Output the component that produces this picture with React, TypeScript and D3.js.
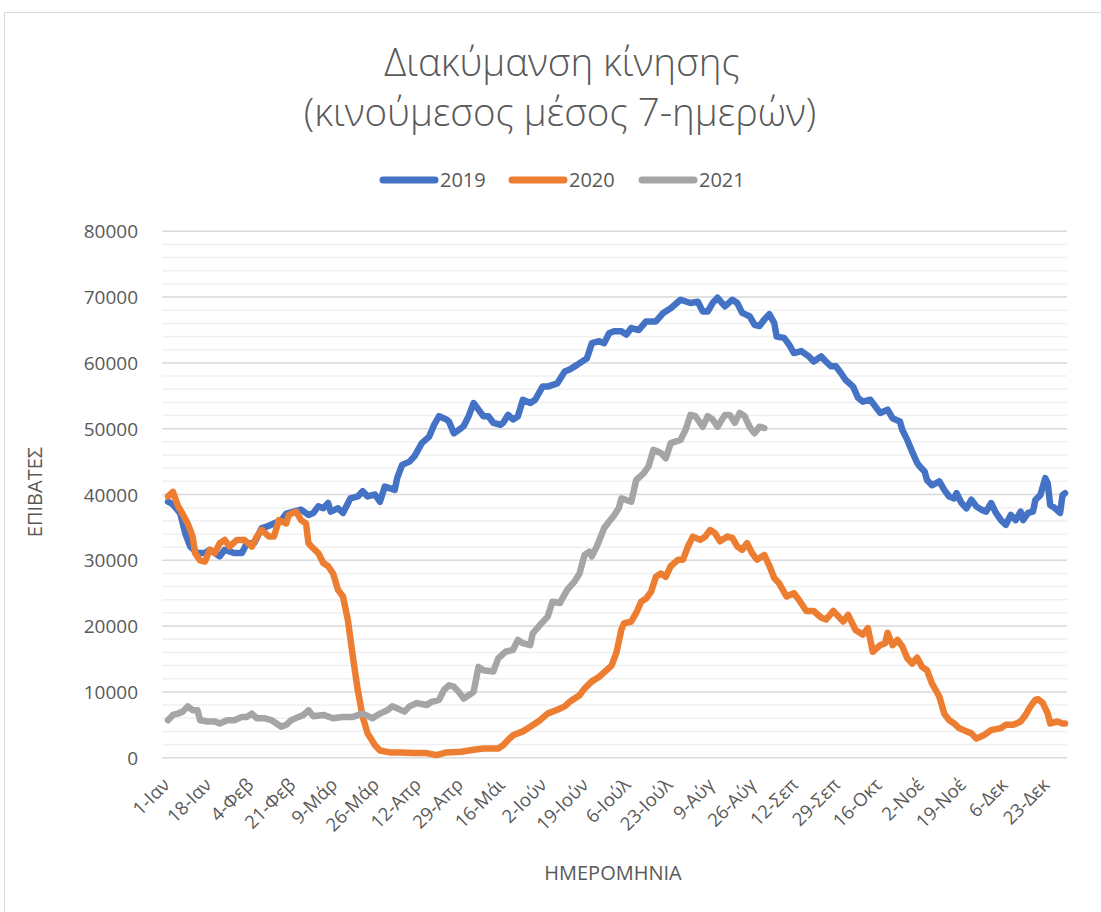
import React from 'react';
import * as d3 from 'd3';

const title1 = 'Διακύμανση κίνησης';
const title2 = '(κινούμεσος μέσος 7-ημερών)';
const seriesNames = ['2019', '2020', '2021'];
const seriesColors = ['#4472C4', '#ED7D31', '#A5A5A5'];
const xAxisTitle = 'ΗΜΕΡΟΜΗΝΙΑ';
const yAxisTitle = 'ΕΠΙΒΑΤΕΣ';

const dayCount = 365;
const tickStep = 17;
const tickLabels = [
  '1-Ιαν', '18-Ιαν', '4-Φεβ', '21-Φεβ', '9-Μάρ', '26-Μάρ', '12-Απρ', '29-Απρ',
  '16-Μάι', '2-Ιούν', '19-Ιούν', '6-Ιούλ', '23-Ιούλ', '9-Αύγ', '26-Αύγ', '12-Σεπ',
  '29-Σεπ', '16-Οκτ', '2-Νοέ', '19-Νοέ', '6-Δεκ', '23-Δεκ',
];
const yTicks = [0, 10000, 20000, 30000, 40000, 50000, 60000, 70000, 80000];
const yMinorStep = 2000;

// [day index, passengers]
const data2019: [number, number][] = [
  [0, 38900], [2, 38500], [5, 37100], [7, 34100], [9, 32100], [12, 31100], [15, 31100], [17, 31600],
  [21, 30600], [23, 31600], [27, 31100], [30, 31100], [32, 32600], [35, 32600], [38, 34900], [40, 35100],
  [43, 35600], [46, 36100], [48, 37100], [51, 37400], [54, 37700], [57, 36900], [59, 37200], [61, 38200],
  [63, 37900], [65, 38700], [66, 37400], [69, 37900], [71, 37200], [74, 39400], [77, 39700], [79, 40500],
  [81, 39700], [84, 40000], [86, 38900], [88, 41200], [92, 40700], [93, 42500], [95, 44500], [98, 45000],
  [100, 45800], [103, 47800], [106, 48800], [108, 50600], [110, 51900], [113, 51400], [114, 51100], [116, 49300],
  [119, 50100], [120, 50400], [122, 51900], [124, 53900], [126, 52900], [128, 51900], [130, 51900], [132, 50900],
  [135, 50600], [136, 50900], [138, 52100], [140, 51400], [142, 51900], [144, 54400], [147, 53900], [149, 54400],
  [152, 56400], [154, 56400], [158, 56900], [161, 58700], [163, 59000], [166, 59700], [168, 60200], [170, 60700],
  [172, 63000], [175, 63300], [177, 63000], [179, 64500], [181, 64800], [184, 64800], [186, 64300], [188, 65300],
  [191, 65000], [194, 66300], [198, 66300], [201, 67600], [204, 68300], [208, 69600], [212, 69100], [215, 69300],
  [217, 67800], [219, 67800], [221, 69100], [223, 69900], [226, 68600], [229, 69600], [231, 69100], [233, 67600],
  [236, 67100], [238, 65800], [240, 65600], [242, 66600], [244, 67400], [246, 66100], [247, 64000], [250, 63800],
  [252, 62800], [254, 61500], [257, 61800], [260, 61000], [262, 60200], [265, 61000], [267, 60200], [269, 59500],
  [271, 59500], [273, 58500], [275, 57400], [278, 56400], [280, 54700], [282, 54100], [285, 54400], [287, 53400],
  [289, 52400], [292, 52900], [294, 51600], [297, 51100], [298, 49800], [300, 48300], [302, 46500], [304, 44800],
  [305, 44300], [307, 43500], [308, 42200], [310, 41400], [313, 42000], [315, 40700], [317, 39700], [319, 39400],
  [320, 40200], [322, 38700], [324, 37900], [326, 39200], [328, 38200], [330, 37700], [332, 37400], [334, 38700],
  [336, 37200], [338, 36100], [340, 35400], [342, 36900], [344, 36100], [346, 37400], [347, 36100], [349, 37200],
  [351, 37400], [352, 39200], [354, 39900], [356, 42500], [357, 41700], [358, 38400], [360, 37900], [362, 37200],
  [363, 39900], [364, 40200],
];

const data2020: [number, number][] = [
  [0, 39700], [2, 40400], [4, 38300], [6, 37000], [8, 35600], [10, 33600], [11, 31100], [13, 30000],
  [15, 29800], [17, 31600], [19, 31100], [21, 32600], [23, 33100], [25, 32100], [28, 33100], [31, 33100],
  [34, 32100], [36, 33600], [38, 34600], [41, 33600], [43, 33600], [45, 36100], [48, 35600], [49, 36900],
  [52, 37400], [54, 36100], [56, 35600], [57, 32600], [59, 31800], [61, 31100], [63, 29600], [65, 29100],
  [67, 28000], [69, 25500], [71, 24500], [73, 20900], [75, 15400], [77, 10300], [79, 6200], [81, 3700],
  [84, 1900], [86, 1100], [90, 800], [94, 800], [100, 700], [105, 700], [109, 400], [113, 800],
  [119, 900], [124, 1200], [128, 1400], [134, 1400], [136, 1900], [138, 2700], [140, 3400], [144, 4000],
  [147, 4700], [151, 5700], [154, 6700], [158, 7300], [161, 7800], [163, 8500], [167, 9500], [169, 10500],
  [172, 11600], [175, 12300], [178, 13300], [180, 14000], [182, 16000], [184, 19500], [185, 20400], [188, 20700],
  [190, 22000], [192, 23700], [194, 24200], [196, 25200], [198, 27500], [200, 28000], [202, 27500], [204, 29100],
  [207, 30100], [209, 30100], [211, 32100], [213, 33600], [216, 33100], [218, 33600], [220, 34600], [222, 34100],
  [224, 32900], [227, 33600], [229, 33400], [231, 32100], [233, 31600], [235, 32600], [237, 31100], [239, 30100],
  [242, 30800], [244, 29200], [246, 27300], [248, 26500], [251, 24500], [254, 25000], [256, 24000], [259, 22300],
  [262, 22300], [265, 21300], [267, 21000], [270, 22300], [272, 21500], [274, 20700], [276, 21700], [279, 19400],
  [282, 18700], [284, 19700], [286, 16100], [289, 17100], [291, 17400], [292, 19000], [294, 17100], [296, 17900],
  [298, 16900], [300, 15100], [302, 14300], [304, 15200], [306, 13800], [308, 13300], [310, 11300], [313, 9300],
  [315, 6700], [317, 5700], [319, 5200], [321, 4500], [324, 4000], [326, 3700], [328, 2900], [331, 3400],
  [334, 4200], [338, 4500], [340, 5000], [343, 5000], [346, 5500], [348, 6500], [350, 7800], [352, 8800],
  [353, 8900], [355, 8300], [357, 6700], [358, 5200], [361, 5500], [363, 5200], [364, 5200],
];

const data2021: [number, number][] = [
  [0, 5700], [2, 6500], [4, 6700], [6, 7000], [8, 7800], [10, 7200], [12, 7200], [13, 5700],
  [16, 5500], [19, 5500], [21, 5200], [24, 5700], [27, 5700], [30, 6200], [32, 6200], [34, 6700],
  [36, 6000], [39, 6000], [42, 5700], [44, 5200], [46, 4700], [48, 5000], [50, 5700], [53, 6200],
  [55, 6500], [57, 7200], [59, 6300], [63, 6500], [67, 6000], [71, 6200], [75, 6200], [79, 6700],
  [83, 6000], [86, 6700], [89, 7200], [91, 7800], [93, 7500], [96, 7000], [98, 7800], [101, 8300],
  [105, 8000], [107, 8500], [110, 8800], [112, 10300], [114, 11000], [116, 10800], [118, 10000], [120, 9000],
  [122, 9500], [124, 10000], [126, 13800], [128, 13300], [132, 13100], [134, 15100], [137, 16100], [140, 16400],
  [142, 17900], [144, 17400], [147, 17100], [148, 18900], [151, 20200], [154, 21400], [156, 23700], [159, 23500],
  [162, 25500], [165, 26800], [167, 28000], [169, 30800], [171, 31300], [172, 30600], [174, 32100], [177, 34900],
  [179, 35900], [181, 36800], [183, 38000], [184, 39400], [188, 38900], [190, 42200], [193, 43200], [195, 44300],
  [197, 46800], [200, 46300], [202, 45500], [204, 47800], [208, 48300], [210, 49800], [212, 52100], [214, 51900],
  [217, 50300], [219, 51900], [221, 51400], [223, 50300], [226, 52100], [228, 52100], [230, 50900], [232, 52400],
  [234, 51900], [236, 50300], [238, 49300], [240, 50300], [242, 50100],
];

const allSeries = [data2019, data2020, data2021];

const W = 1101;
const H = 912;
const plotLeft = 162;
const plotRight = 1067;
const yTop = 231.3;
const yBottom = 757.7;
const textColor = '#595959';
const font = '"Open Sans", "DejaVu Sans", sans-serif';

export default function App() {
  const x = d3.scaleLinear().domain([0, dayCount - 1]).range([168, 1065]);
  const y = d3.scaleLinear().domain([0, 80000]).range([yBottom, yTop]);
  const line = d3
    .line<[number, number]>()
    .x((d) => x(d[0]))
    .y((d) => y(d[1]))
    .curve(d3.curveLinear);

  const minorTicks = d3.range(0, 80000 + 1, yMinorStep).filter((v) => v % 10000 !== 0);

  const legendX = [383, 512, 642];

  return (
    <svg
      width={W}
      height={H}
      style={{ position: 'absolute', left: 0, top: 0, display: 'block', background: '#fff' }}
      fontFamily={font}
    >
      <rect x={0} y={0} width={W} height={H} fill="#fff" />
      <rect x={4.5} y={12.5} width={W + 20} height={H + 20} fill="#fff" stroke="#d9d9d9" strokeWidth={1} />

      {/* title */}
      <text x={562} y={76} textAnchor="middle" fontSize={38.5} fontWeight={300} fill={textColor}>
        {title1}
      </text>
      <text x={560} y={126} textAnchor="middle" fontSize={38.5} fontWeight={300} fill={textColor}>
        {title2}
      </text>

      {/* legend */}
      {seriesNames.map((name, i) => (
        <g key={name}>
          <line
            x1={legendX[i]}
            x2={legendX[i] + 52}
            y1={180}
            y2={180}
            stroke={seriesColors[i]}
            strokeWidth={7}
            strokeLinecap="round"
          />
          <text x={legendX[i] + 57} y={187} fontSize={20} fill={textColor}>
            {name}
          </text>
        </g>
      ))}

      {/* gridlines */}
      {minorTicks.map((v) => (
        <line key={'m' + v} x1={plotLeft} x2={plotRight} y1={y(v)} y2={y(v)} stroke="#f0f0f0" strokeWidth={1.5} />
      ))}
      {yTicks.map((v) => (
        <line key={'M' + v} x1={plotLeft} x2={plotRight} y1={y(v)} y2={y(v)} stroke="#d9d9d9" strokeWidth={1.5} />
      ))}

      {/* y tick labels */}
      {yTicks.map((v) => (
        <text key={'yl' + v} x={138} y={y(v) + 7} textAnchor="end" fontSize={19} fill={textColor}>
          {v}
        </text>
      ))}

      {/* x tick labels */}
      {tickLabels.map((lab, k) => {
        const px = x(k * tickStep) + 3;
        const py = 786;
        return (
          <text
            key={lab}
            x={px}
            y={py}
            textAnchor="end"
            fontSize={18.5}
            fill={textColor}
            transform={`rotate(-45 ${px} ${py})`}
          >
            {lab}
          </text>
        );
      })}

      {/* axis titles */}
      <text x={613} y={880} textAnchor="middle" fontSize={20} fill={textColor}>
        {xAxisTitle}
      </text>
      <text
        x={0}
        y={0}
        textAnchor="middle"
        fontSize={20}
        fill={textColor}
        transform={`translate(42 492) rotate(-90)`}
      >
        {yAxisTitle}
      </text>

      {/* series */}
      {allSeries.map((s, i) => (
        <path
          key={seriesNames[i]}
          d={line(s) || ''}
          fill="none"
          stroke={seriesColors[i]}
          strokeWidth={6.5}
          strokeLinejoin="round"
          strokeLinecap="round"
        />
      ))}
    </svg>
  );
}
